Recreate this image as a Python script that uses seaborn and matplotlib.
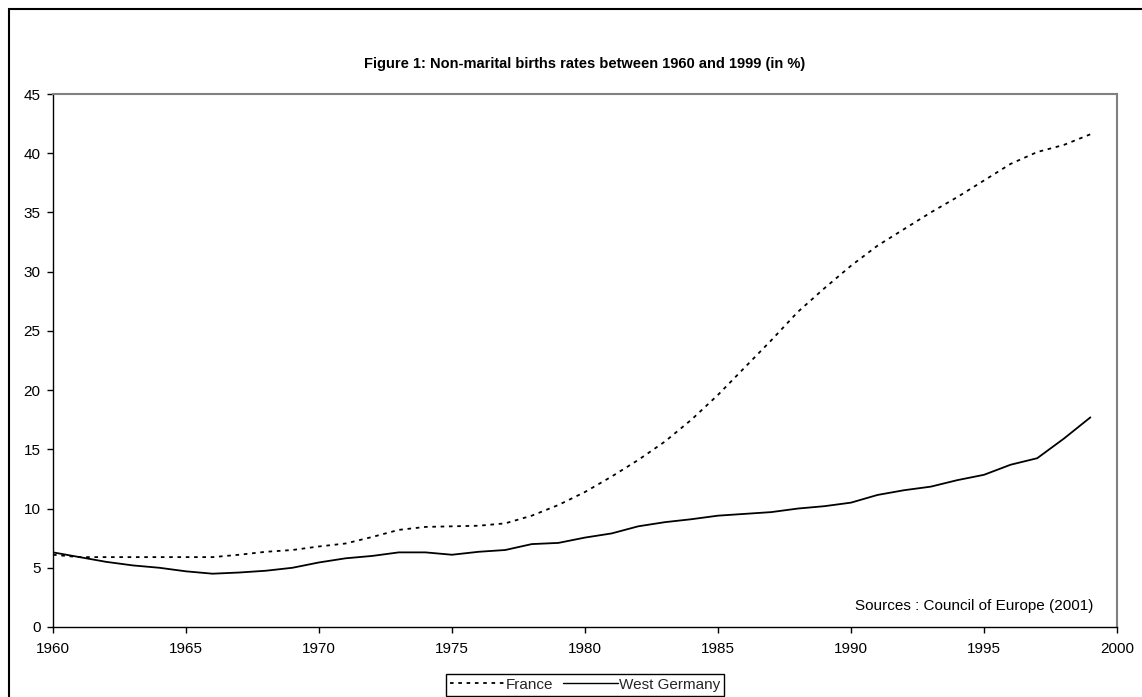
import matplotlib
matplotlib.use("Agg")
import matplotlib.pyplot as plt
import seaborn as sns
import pandas as pd
from matplotlib.patches import Rectangle

years = list(range(1960, 2000))
france = [6.1, 5.9, 5.9, 5.9, 5.9, 5.9, 5.9, 6.1, 6.35, 6.5,
          6.8, 7.05, 7.6, 8.2, 8.45, 8.5, 8.55, 8.75, 9.4, 10.3,
          11.4, 12.7, 14.1, 15.65, 17.5, 19.6, 21.9, 24.2, 26.6, 28.6,
          30.5, 32.2, 33.6, 35.0, 36.3, 37.7, 39.1, 40.1, 40.7, 41.6]
west_germany = [6.3, 5.9, 5.5, 5.2, 5.0, 4.7, 4.5, 4.6, 4.75, 5.0,
                5.45, 5.8, 6.0, 6.3, 6.3, 6.1, 6.35, 6.5, 7.0, 7.1,
                7.55, 7.9, 8.5, 8.85, 9.1, 9.4, 9.55, 9.7, 10.0, 10.2,
                10.5, 11.15, 11.55, 11.85, 12.4, 12.85, 13.7, 14.25, 15.9, 17.7]
series_names = ["France", "West Germany"]
x_ticks = list(range(1960, 2001, 5))
y_ticks = list(range(0, 46, 5))

df = pd.DataFrame({
    "year": years * 2,
    "rate": france + west_germany,
    "country": [series_names[0]] * len(years) + [series_names[1]] * len(years),
})

sns.set_style("white")
plt.rcParams["font.family"] = ["Liberation Sans", "DejaVu Sans"]

fig = plt.figure(figsize=(11.42, 6.97), dpi=100)
ax = fig.add_axes([53 / 1142, 1 - 627 / 697, (1117 - 53) / 1142, (627 - 94) / 697])

sns.lineplot(data=df, x="year", y="rate", hue="country", style="country",
             palette={"France": "black", "West Germany": "black"},
             dashes={"France": (2, 2.6), "West Germany": ""},
             linewidth=1.3, ax=ax, legend=False)

ax.set_xlim(1960, 2000)
ax.set_ylim(0, 45)
ax.set_xticks(x_ticks)
ax.set_yticks(y_ticks)
ax.set_xlabel("")
ax.set_ylabel("")
ax.tick_params(axis="both", direction="out", length=4, width=1, color="black",
               labelsize=11, labelcolor="black", bottom=True, left=True)
ax.tick_params(axis="x", pad=7)
ax.tick_params(axis="y", pad=5)
for s in ["left", "bottom"]:
    ax.spines[s].set_color("black")
    ax.spines[s].set_linewidth(1.0)
for s in ["top", "right"]:
    ax.spines[s].set_color("#808080")
    ax.spines[s].set_linewidth(1.5)
ax.grid(False)

ax.text(1999.1, 1.75, "Sources : Council of Europe (2001)", ha="right", va="center",
        fontsize=11, color="black")

fig.text(585 / 1142, 1 - 64 / 697, "Figure 1: Non-marital births rates between 1960 and 1999 (in %)",
         ha="center", va="center", fontsize=10.5, fontweight="bold", color="black")

handles = [
    plt.Line2D([], [], color="black", lw=1.3, linestyle=(0, (2, 2.6))),
    plt.Line2D([], [], color="black", lw=1.0, linestyle="-"),
]
leg = fig.legend(handles, series_names, loc="upper center",
                 bbox_to_anchor=(585 / 1142, 1 - 674 / 697), ncol=2, frameon=True,
                 fontsize=11, handlelength=3.6, handletextpad=0.1, columnspacing=0.6,
                 borderpad=0.25, borderaxespad=0, fancybox=False, framealpha=1,
                 edgecolor="black")
leg.get_frame().set_linewidth(1.0)

fig.add_artist(Rectangle((8.5 / 1142, -0.05), 1.1, 1 - 8.5 / 697 + 0.05,
                         transform=fig.transFigure, fill=False, edgecolor="black",
                         linewidth=1.5))

fig.savefig("out.png", dpi=100)
